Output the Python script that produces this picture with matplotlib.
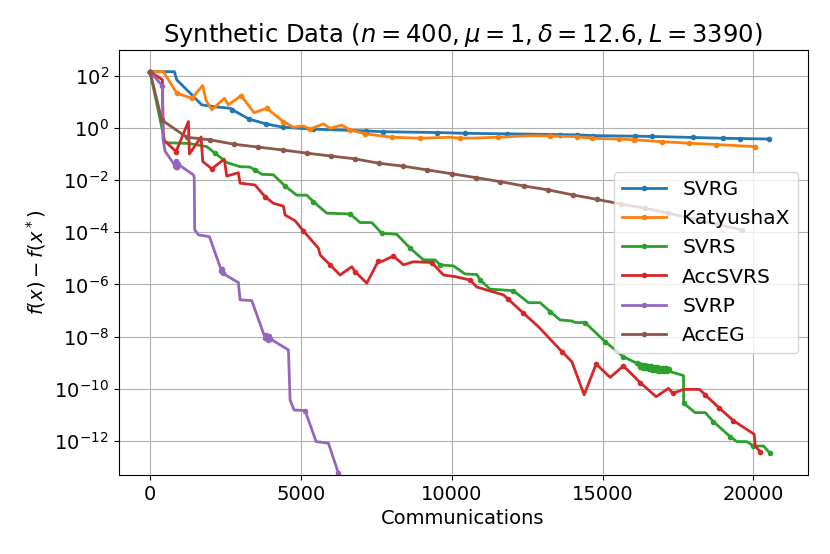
import numpy as np
import matplotlib
matplotlib.use("Agg")
import matplotlib.pyplot as plt
from matplotlib.ticker import FixedLocator, NullLocator, LogFormatterSciNotation

# valores (y em log10)
svrg_x = [0, 807, 884, 1326, 1713, 2200, 2652, 2730, 3294, 3846, 4420, 5395, 7162, 7714, 9500,
          10444, 11826, 13594, 14147, 14698, 16080, 16634, 18014, 19009, 19562, 20524]
svrg_logy = [2.15, 2.15, 1.84, 1.33, 0.88, 0.80, 0.75, 0.69, 0.33, 0.15, 0.02, -0.05, -0.12, -0.15, -0.18,
             -0.21, -0.23, -0.26, -0.27, -0.30, -0.32, -0.33, -0.37, -0.40, -0.41, -0.43]

katx_x = [0, 442, 884, 1382, 1747, 1850, 2045, 2465, 2597, 3017, 3448, 3869, 4420, 4752, 5084, 5305,
          5747, 5968, 6355, 6631, 7129, 8013, 8952, 9947, 10279, 10832, 11550, 12600, 13263, 14148,
          14645, 15550, 16058, 16965, 17871, 18767, 20060]
katx_logy = [2.15, 2.15, 1.33, 1.13, 1.62, 1.07, 0.69, 1.13, 0.88, 1.23, 0.58, 0.75, 0.24, 0.02, 0.07, -0.05,
             0.15, -0.02, 0.10, -0.08, -0.23, -0.36, -0.40, -0.36, -0.40, -0.39, -0.36, -0.30, -0.31, -0.34,
             -0.40, -0.43, -0.46, -0.53, -0.59, -0.64, -0.72]

svrs_x = [0, 497, 1300, 1879, 2155, 2542, 2984, 3300, 3481, 3703, 4089, 4476, 4863, 5195, 5416, 5858,
          6631, 6963, 7350, 7682, 8179, 8621, 9063, 9450, 9615, 10057, 10444, 10832, 10942, 11273,
          12047, 12545, 12932, 13263, 13594, 13983, 14092, 14423, 15086, 15694, 16136,
          16200, 16250, 16300, 16350, 16400, 16450, 16500, 16550, 16600, 16650, 16700,
          16750, 16800, 16850, 16900, 16950, 17000, 17050, 17100, 17150, 17200,
          17241, 17683, 17690, 18070, 18402, 18678, 19231, 19452, 19784, 20004, 20336, 20557]
svrs_logy = [2.15, -0.57, -0.60, -0.72, -0.97, -1.33, -1.49, -1.50, -1.61, -1.78, -1.80, -2.23, -2.58, -2.58, -2.83, -3.27,
             -3.30, -3.63, -3.63, -4.04, -4.08, -4.61, -5.06, -5.06, -5.25, -5.29, -5.60, -5.62, -5.83, -6.18,
             -6.24, -6.70, -6.70, -7.04, -7.36, -7.40, -7.46, -7.46, -8.19, -8.77, -9.02,
             -9.05, -9.15, -9.08, -9.20, -9.10, -9.22, -9.12, -9.25, -9.14, -9.27, -9.16,
             -9.28, -9.18, -9.30, -9.19, -9.31, -9.20, -9.32, -9.22, -9.30, -9.25,
             -9.34, -9.49, -10.55, -10.91, -10.91, -11.26, -11.83, -12.02, -12.02, -12.19, -12.19, -12.47]

accsvrs_x = [0, 409, 440, 862, 1271, 1304, 1691, 1747, 2045, 2460, 2542, 2928, 2984, 3481, 3813, 4089,
             4420, 4476, 4808, 5084, 5581, 5637, 5968, 6300, 6687, 6797, 7185, 7571, 7682, 8068, 8400,
             8731, 9339, 9726, 10113, 10610, 10832, 11714, 11880, 12378, 12875, 13650, 13983, 14390,
             14788, 15252, 15694, 16247, 16777, 17186, 17330, 17683, 18214, 18402, 18877, 19340,
             20027, 20060, 20225]
accsvrs_logy = [2.15, 1.84, -0.45, -0.91, 0.24, -1.00, -0.35, -1.29, -1.57, -1.20, -1.85, -1.72, -2.12, -2.19, -2.64, -2.89,
                -3.00, -3.34, -3.56, -3.95, -4.61, -4.87, -5.25, -5.64, -5.32, -5.51, -5.95, -5.09, -5.12, -4.91, -5.25,
                -5.13, -5.16, -5.64, -5.70, -5.83, -6.10, -6.40, -6.57, -7.10, -7.62, -8.57, -8.96, -10.23,
                -9.05, -9.56, -9.12, -9.76, -10.30, -9.98, -10.17, -10.02, -10.02, -10.23, -10.74, -11.22,
                -11.74, -12.19, -12.41]

svrp_x = [0, 409, 430, 500, 774, 830, 850, 870, 890, 910, 930, 1437, 1465, 1480, 1603, 1967, 2321,
          2360, 2390, 2420, 2929, 2984, 3371, 3759, 3820, 3860, 3900, 3940, 3980, 4587, 4642, 4775,
          5140, 5504, 5913, 6244, 6450]
svrp_logy = [2.15, 1.61, -0.46, -0.90, -1.36, -1.45, -1.28, -1.52, -1.33, -1.50, -1.40, -1.80, -1.90, -3.90, -4.10, -4.17, -5.32,
             -5.50, -5.42, -5.58, -5.93, -6.59, -6.62, -7.87, -8.05, -7.95, -8.12, -7.98, -8.08, -8.51, -10.43, -10.81,
             -10.83, -12.02, -12.08, -13.23, -14.0]

acceg_x = [0, 387, 1216, 1989, 2796, 3592, 4399, 5195, 5990, 6797, 7603, 8400, 9173, 10002, 10809,
           11605, 12401, 13207, 14015, 14810, 15606, 16412, 17186, 18014, 18800, 19617]
acceg_logy = [2.15, 0.30, -0.36, -0.46, -0.63, -0.74, -0.85, -0.97, -1.08, -1.19, -1.36, -1.47, -1.61, -1.76, -1.91,
              -2.06, -2.23, -2.38, -2.57, -2.74, -2.92, -3.08, -3.27, -3.50, -3.70, -3.91]

names = ["SVRG", "KatyushaX", "SVRS", "AccSVRS", "SVRP", "AccEG"]
series_x = [svrg_x, katx_x, svrs_x, accsvrs_x, svrp_x, acceg_x]
series_logy = [svrg_logy, katx_logy, svrs_logy, accsvrs_logy, svrp_logy, acceg_logy]

# onde aparecem os pontos marcados
marks = [
    [0] + list(range(7, 26)),
    [0, 2, 3, 9, 11, 12, 15, 19, 20, 21, 22, 24, 26, 28, 29, 30, 31, 32, 33, 34, 35, 36],
    [0, 4, 8, 11, 14, 16, 19, 21, 24, 28, 30, 33, 37, 38, 39, 40] + list(range(41, 62)) + [64, 67, 68, 71, 73],
    [0, 3, 8, 14, 19, 22, 25, 27, 29, 32, 35, 38, 39, 41, 44, 46, 47, 50, 53, 54, 55, 58],
    [0, 1, 5, 6, 7, 8, 9, 10, 17, 18, 19, 24, 25, 26, 27, 28, 32, 35],
    list(range(26)),
]

fig = plt.figure(figsize=(8.3, 5.54), dpi=100)
ax = fig.add_axes([0.1428, 0.1426, 0.8303, 0.7671])

for name, xs, ly, me in zip(names, series_x, series_logy, marks):
    ax.plot(xs, 10.0 ** np.array(ly), marker=".", markersize=6, linewidth=2,
            markevery=me, label=name)

ax.set_yscale("log")
ax.set_xlim(-1045, 21800)
ax.set_ylim(10 ** -13.3, 10 ** 2.98)
ax.yaxis.set_major_locator(FixedLocator([10.0 ** k for k in range(-12, 3, 2)]))
ax.yaxis.set_major_formatter(LogFormatterSciNotation())
ax.yaxis.set_minor_locator(NullLocator())
ax.set_xticks([0, 5000, 10000, 15000, 20000])
ax.tick_params(labelsize=14)
ax.grid(True)

ax.set_title(r"Synthetic Data ($n = 400, \mu = 1, \delta = 12.6, L = 3390$)", fontsize=17.5)
ax.set_xlabel("Communications", fontsize=14)
ax.set_ylabel(r"$f(x) - f(x^*)$", fontsize=14)
ax.legend(loc="center right", fontsize=14.5, handlelength=2.2)

plt.savefig("out.png", dpi=100)
